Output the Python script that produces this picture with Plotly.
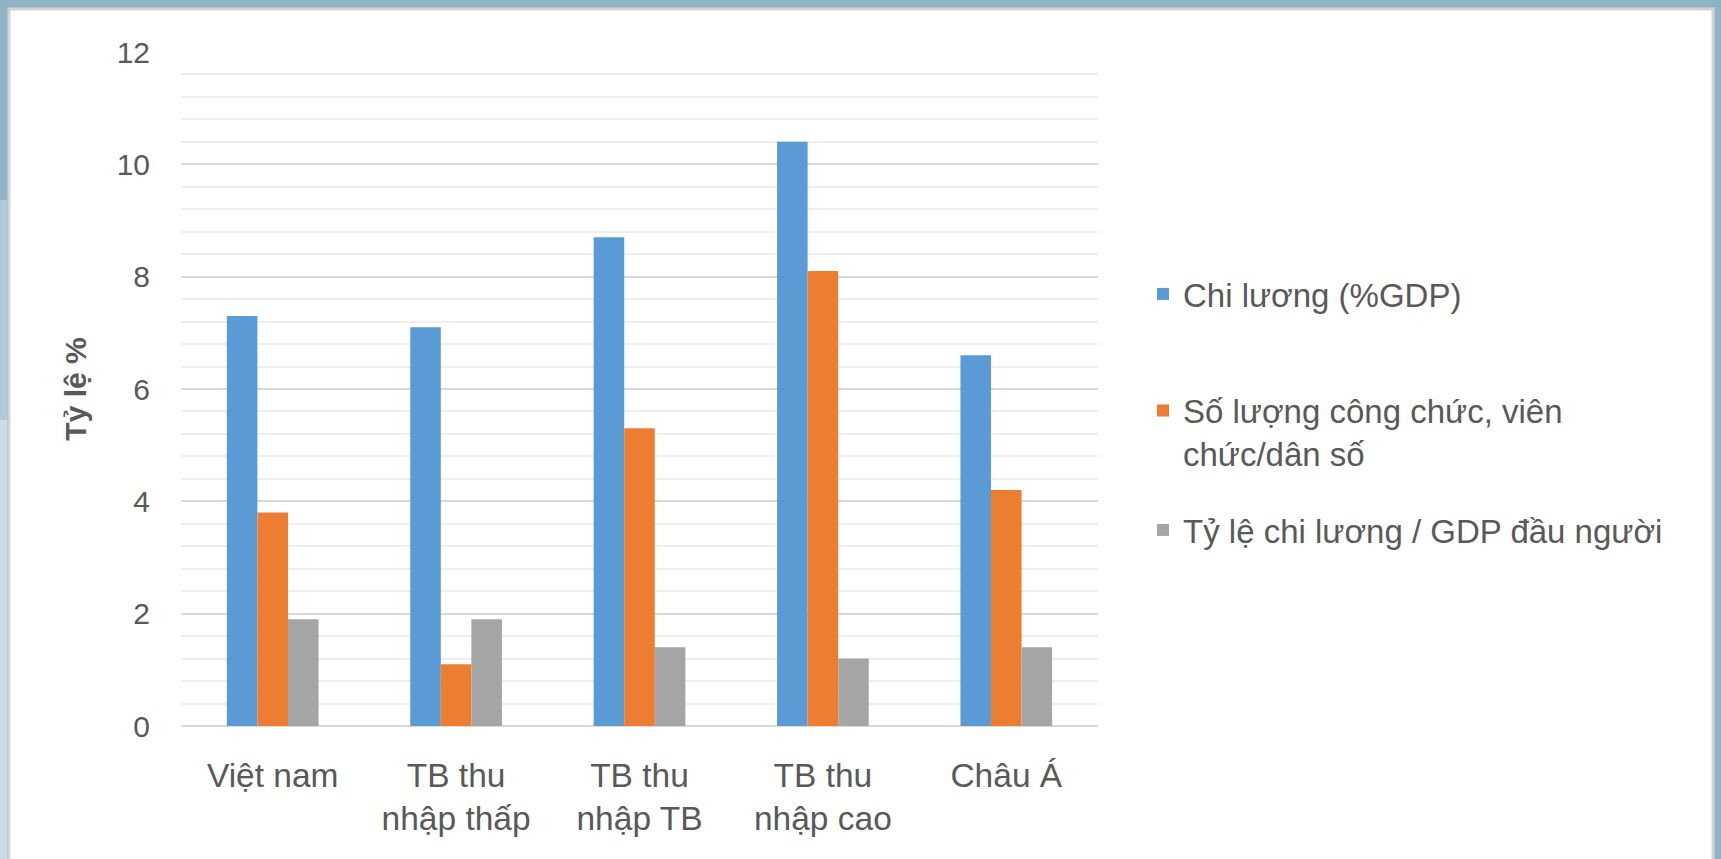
import plotly.graph_objects as go

categories = ["Việt nam", "TB thu<br>nhập thấp", "TB thu<br>nhập TB", "TB thu<br>nhập cao", "Châu Á"]
series_names = ["Chi lương (%GDP)", "Số lượng công chức, viên<br>chức/dân số", "Tỷ lệ chi lương / GDP đầu người"]
chi_luong = [7.3, 7.1, 8.7, 10.4, 6.6]
so_luong = [3.8, 1.1, 5.3, 8.1, 4.2]
ty_le = [1.9, 1.9, 1.4, 1.2, 1.4]
colors = ["#5b9bd5", "#ed7d31", "#a5a5a5"]
y_ticks = [0, 2, 4, 6, 8, 10, 12]

W, H = 1721, 859
L, R, T, B = 181, W - 1098, 52, H - 726
PW, PH = W - L - R, H - T - B

def px(xp):
    return (xp - L) / PW

def py(yp):
    return (H - B - yp) / PH

FONT = "Liberation Sans, Arial, sans-serif"
TXT = "#595959"

fig = go.Figure()
values = [chi_luong, so_luong, ty_le]
legends = ["legend", "legend2", "legend3"]
for name, vals, col, lg in zip(series_names, values, colors, legends):
    fig.add_trace(go.Bar(x=categories, y=vals, name=name, marker=dict(color=col, line=dict(width=0)),
                         legend=lg, showlegend=True))

leg_common = dict(font=dict(family=FONT, size=33, color=TXT), bgcolor="rgba(0,0,0,0)",
                  xanchor="left", yanchor="middle", valign="top", itemwidth=30)

fig.update_layout(
    width=W, height=H,
    margin=dict(l=L, r=R, t=T, b=B, pad=0, autoexpand=False),
    paper_bgcolor="#8fb3c5",
    plot_bgcolor="rgba(0,0,0,0)",
    showlegend=True,
    barmode="group", bargap=0.5, bargroupgap=0,
    font=dict(family=FONT, color=TXT),
    legend=dict(x=px(1143), y=py(294), **leg_common),
    legend2=dict(x=px(1143), y=py(432), **leg_common),
    legend3=dict(x=px(1143), y=py(530), **leg_common),
    xaxis=dict(showgrid=False, showline=False, ticks="", tickfont=dict(size=33.5, color=TXT),
               ticklabelstandoff=26, automargin=False),
    yaxis=dict(range=[0, 12], tickvals=y_ticks, showgrid=True, gridcolor="#d9d9d9", gridwidth=2,
               zeroline=True, zerolinecolor="#d9d9d9", zerolinewidth=2, showline=False,
               ticks="", tickfont=dict(size=30, color=TXT), ticklabelstandoff=30, automargin=False,
               minor=dict(dtick=0.4, showgrid=True, gridcolor="#efefef", gridwidth=1.5),
               title=dict(text="<b>Tỷ lệ %</b>", font=dict(family=FONT, size=30, color=TXT), standoff=21)),
    shapes=[
        dict(type="rect", xref="paper", yref="paper", x0=px(9), x1=px(1713), y0=py(880), y1=py(9),
             fillcolor="white", line=dict(color="#d4d4d4", width=3), layer="below"),
        dict(type="rect", xref="paper", yref="paper", x0=px(-2), x1=px(7.5), y0=py(880), y1=py(420),
             fillcolor="#c9dce7", line=dict(width=0), layer="below"),
        dict(type="rect", xref="paper", yref="paper", x0=px(-2), x1=px(7.5), y0=py(420), y1=py(200),
             fillcolor="#b0cad8", line=dict(width=0), layer="below"),
    ],
)

fig.write_html("out.html", config={"displayModeBar": False},
               post_script="document.body.style.margin='0';")
